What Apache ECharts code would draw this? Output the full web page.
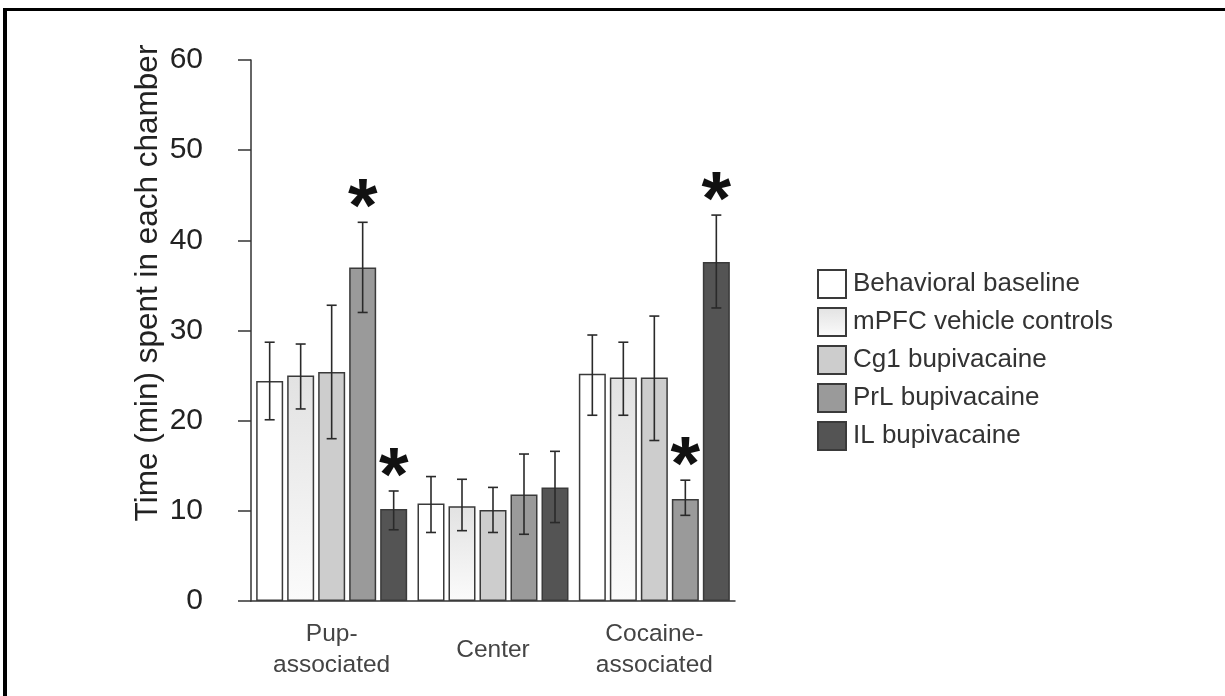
<!DOCTYPE html>
<html>
<head>
<meta charset="utf-8">
<script src="https://cdn.jsdelivr.net/npm/echarts@6/dist/echarts.min.js"></script>
<style>
  html, body { margin: 0; padding: 0; background: #fff; }
  #wrap { position: relative; width: 1225px; height: 696px; overflow: hidden; }
  #frameTop { position: absolute; left: 3px; top: 8px; width: 1222px; height: 3px; background: #000; }
  #frameLeft { position: absolute; left: 3px; top: 8px; width: 4px; height: 688px; background: #000; }
  #chart { position: absolute; left: 0; top: 0; width: 1225px; height: 696px; }
</style>
</head>
<body>
<div id="wrap">
  <div id="chart"></div>
  <div id="frameTop"></div>
  <div id="frameLeft"></div>
</div>
<script>
// ---- data ----
const categories = ['Pup-\nassociated', 'Center', 'Cocaine-\nassociated'];
const seriesNames = ['Behavioral baseline', 'mPFC vehicle controls', 'Cg1 bupivacaine', 'PrL bupivacaine', 'IL bupivacaine'];
const yTicks = [0, 10, 20, 30, 40, 50, 60];

const baselineMean = [24.4, 10.8, 25.2];
const vehicleMean  = [25.0, 10.5, 24.8];
const cg1Mean      = [25.4, 10.1, 24.8];
const prlMean      = [37.0, 11.8, 11.3];
const ilMean       = [10.2, 12.6, 37.6];

const baselineLow  = [20.1, 7.6, 20.6];
const baselineHigh = [28.7, 13.8, 29.5];
const vehicleLow   = [21.3, 7.8, 20.6];
const vehicleHigh  = [28.5, 13.5, 28.7];
const cg1Low       = [18.0, 7.6, 17.8];
const cg1High      = [32.8, 12.6, 31.6];
const prlLow       = [32.0, 7.4, 9.5];
const prlHigh      = [42.0, 16.3, 13.4];
const ilLow        = [7.9, 8.7, 32.5];
const ilHigh       = [12.2, 16.6, 42.8];

const baselineSig = [0, 0, 0];
const vehicleSig  = [0, 0, 0];
const cg1Sig      = [0, 0, 0];
const prlSig      = [1, 0, 1];
const ilSig       = [1, 0, 1];

// ---- assembly ----
const means = [baselineMean, vehicleMean, cg1Mean, prlMean, ilMean];
const lows  = [baselineLow, vehicleLow, cg1Low, prlLow, ilLow];
const highs = [baselineHigh, vehicleHigh, cg1High, prlHigh, ilHigh];
const sigs  = [baselineSig, vehicleSig, cg1Sig, prlSig, ilSig];

const BAR_W = 27, BAR_GAP = 4;
const fills = [
  '#ffffff',
  { type: 'linear', x: 0, y: 0, x2: 0, y2: 1, colorStops: [{ offset: 0, color: '#e2e2e2' }, { offset: 1, color: '#fbfbfb' }] },
  '#cdcdcd',
  '#9a9a9a',
  '#545454'
];
const FONT = '"Liberation Sans", Arial, Helvetica, sans-serif';

const series = [];
seriesNames.forEach((name, i) => {
  series.push({
    name: name,
    type: 'bar',
    data: means[i],
    barWidth: BAR_W,
    barGap: (BAR_GAP / BAR_W * 100) + '%',
    itemStyle: { color: fills[i], borderColor: '#3a3a3a', borderWidth: 1.5 },
    emphasis: { disabled: true },
    z: 2
  });
});
seriesNames.forEach((name, i) => {
  const d = categories.map((c, k) => [k, means[i][k], lows[i][k], highs[i][k], sigs[i][k]]);
  series.push({
    type: 'custom',
    name: 'err' + i,
    data: d,
    z: 5,
    silent: true,
    renderItem: function (params, api) {
      const k = api.value(0);
      const offset = (i - 2) * (BAR_W + BAR_GAP);
      const pLo = api.coord([k, api.value(2)]);
      const pHi = api.coord([k, api.value(3)]);
      const x = pLo[0] + offset;
      const cap = 5;
      const style = { stroke: '#2a2a2a', lineWidth: 1.6 };
      const children = [
        { type: 'line', shape: { x1: x, y1: pLo[1], x2: x, y2: pHi[1] }, style: style },
        { type: 'line', shape: { x1: x - cap, y1: pLo[1], x2: x + cap, y2: pLo[1] }, style: style },
        { type: 'line', shape: { x1: x - cap, y1: pHi[1], x2: x + cap, y2: pHi[1] }, style: style }
      ];
      if (api.value(4)) {
        children.push({
          type: 'text',
          style: {
            text: '*', x: x, y: pHi[1] + 26,
            textAlign: 'center', textVerticalAlign: 'bottom',
            font: 'bold 76px ' + FONT, fill: '#111'
          }
        });
      }
      return { type: 'group', children: children };
    }
  });
});

const chart = echarts.init(document.getElementById('chart'), null, { renderer: 'canvas' });
chart.setOption({
  animation: false,
  backgroundColor: 'transparent',
  grid: { left: 251, right: 490, top: 60, bottom: 95, containLabel: false },
  legend: {
    data: seriesNames,
    orient: 'vertical',
    left: 817,
    top: 269,
    padding: 0,
    itemWidth: 28,
    itemHeight: 28,
    itemGap: 8,
    icon: 'rect',
    selectedMode: false,
    textStyle: { fontSize: 26, color: '#333', fontFamily: FONT, padding: [0, 0, 0, 2] }
  },
  xAxis: {
    type: 'category',
    data: categories,
    axisLine: { lineStyle: { color: '#333', width: 1.5 } },
    axisTick: { show: false },
    axisLabel: {
      interval: 0, fontSize: 24.5, color: '#444', fontFamily: FONT,
      lineHeight: 31, verticalAlign: 'middle', margin: 49
    }
  },
  yAxis: {
    type: 'value',
    min: yTicks[0], max: yTicks[yTicks.length - 1], interval: 10,
    axisLine: { show: true, lineStyle: { color: '#333', width: 1.5 } },
    axisTick: { show: true, length: 13, lineStyle: { color: '#333', width: 1.5 } },
    splitLine: { show: false },
    axisLabel: { fontSize: 30, color: '#222', fontFamily: FONT, margin: 48 }
  },
  graphic: [{
    type: 'text',
    x: 148, y: 283,
    rotation: Math.PI / 2,
    style: {
      text: 'Time (min) spent in each chamber',
      font: '31.5px ' + FONT, fill: '#222',
      textAlign: 'center', textVerticalAlign: 'middle'
    }
  }],
  series: series
});
</script>
</body>
</html>
